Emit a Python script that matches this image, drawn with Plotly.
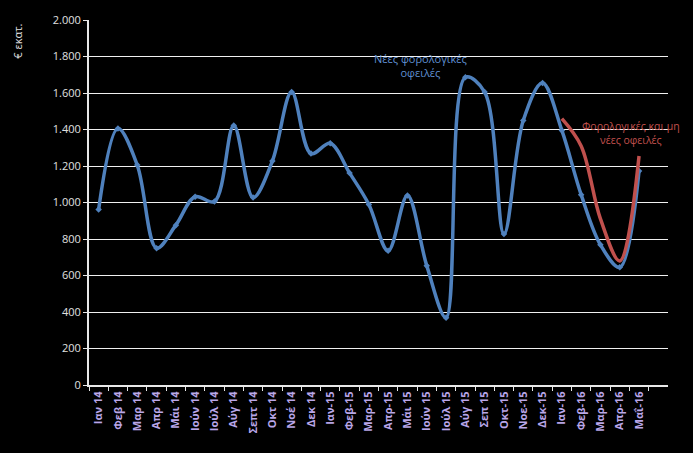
import plotly.graph_objects as go

months = ["Ιαν 14", "Φεβ 14", "Μαρ 14", "Απρ 14", "Μάι 14", "Ιούν 14", "Ιούλ 14", "Αύγ 14",
          "Σεπτ 14", "Οκτ 14", "Νοέ 14", "Δεκ 14", "Ιαν-15", "Φεβ-15", "Μαρ-15", "Απρ-15",
          "Μάι 15", "Ιούν 15", "Ιούλ 15", "Αύγ 15", "Σεπ 15", "Οκτ-15", "Νοε-15", "Δεκ-15",
          "Ιαν-16", "Φεβ-16", "Μαρ-16", "Απρ-16", "Μαΐ-16"]

new_tax_debts = [962, 1405, 1205, 750, 876, 1032, 1005, 1422,
                 1027, 1227, 1605, 1268, 1324, 1162, 989, 735,
                 1038, 654, 368, 1686, 1605, 827, 1449, 1655,
                 1395, 1043, 768, 645, 1173]

red_months = ["Ιαν-16", "Φεβ-16", "Μαρ-16", "Απρ-16", "Μαΐ-16"]
all_new_debts = [1460, 1310, 910, 680, 1255]

y_ticks = [0, 200, 400, 600, 800, 1000, 1200, 1400, 1600, 1800, 2000]

blue = "#4f81bd"
red = "#c0504d"
purple = "#b9a6e8"

ML, MR, MT, MB = 89, 25, 15, 68
W, H = 693, 453
pw = W - ML - MR
ph = H - MT - MB


def px(x):
    return (x - ML) / pw


def py(y):
    return 1 - (y - MT) / ph


fig = go.Figure()
fig.add_trace(go.Scatter(
    x=months, y=new_tax_debts, mode="lines+markers",
    line=dict(color=blue, width=3.5, shape="spline", smoothing=1.0),
    marker=dict(symbol="diamond", size=5, color=blue),
    showlegend=False))
fig.add_trace(go.Scatter(
    x=red_months, y=all_new_debts, mode="lines",
    line=dict(color=red, width=3.5, shape="spline", smoothing=1.0),
    showlegend=False))

fig.update_layout(
    width=W, height=H,
    paper_bgcolor="black", plot_bgcolor="black",
    margin=dict(l=ML, r=MR, t=MT, b=MB),
    separators=",.",
    font=dict(family="Open Sans", color="#e0e0e0"),
    xaxis=dict(
        type="category", categoryorder="array", categoryarray=months,
        range=[-0.5, 29.5], tickangle=-90, showgrid=False,
        showline=True, linecolor="#e8e8e8", linewidth=2,
        ticks="outside", ticklen=4, tickcolor="#e8e8e8", tickson="boundaries",
        tickfont=dict(family="Open Sans", size=11, color=purple, weight="bold"),
    ),
    yaxis=dict(
        range=[0, 2000], tickvals=y_ticks, tickformat=",d",
        showgrid=True, gridcolor="#f0f0f0", gridwidth=1,
        showline=True, linecolor="#e8e8e8", linewidth=2,
        ticks="outside", ticklen=4, tickcolor="#e8e8e8",
        tickfont=dict(family="Open Sans", size=11, color="#e0e0e0"),
        zeroline=False,
    ),
    annotations=[
        dict(text="€ εκατ.", x=px(18), y=py(37), xref="paper", yref="paper", showarrow=False,
             textangle=-90, font=dict(size=11, color="#e0e0e0"),
             xanchor="center", yanchor="middle"),
        dict(text="Νέες φορολογικές<br>οφειλές", x=px(420), y=py(61), xref="paper", yref="paper",
             showarrow=False, font=dict(size=11, color="#5f8fd0"),
             xanchor="center", yanchor="middle"),
        dict(text="Φορολογικές και μη<br>νέες οφειλές", x=px(631), y=py(130), xref="paper", yref="paper",
             showarrow=False, font=dict(size=10.5, color=red),
             xanchor="center", yanchor="middle"),
    ],
)

fig.write_html("out.html")
